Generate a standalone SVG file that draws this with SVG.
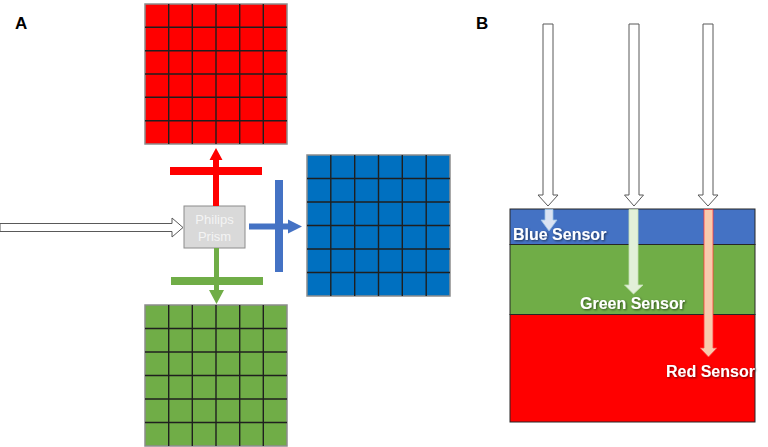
<svg xmlns="http://www.w3.org/2000/svg" width="768" height="447" viewBox="0 0 768 447">
<defs>
<style>
.grid-border{stroke:#8c8c8c;stroke-width:1.5}
.grid-lines{stroke:#1f1f1f;stroke-width:1.4;fill:none}
.panel{font-family:"Liberation Sans",Arial,sans-serif;font-weight:bold;font-size:17px;fill:#000}
.hollow{fill:#fff;stroke:#595959;stroke-width:1}
.sensor{font-family:"Liberation Sans",Arial,sans-serif;font-weight:bold;font-size:16px;fill:#fff;filter:url(#sh)}
.prism-t{font-family:"Liberation Sans",Arial,sans-serif;font-size:13px;fill:#f4f4f4;text-anchor:middle}
</style>
<filter id="sh" x="-10%" y="-30%" width="130%" height="160%">
<feDropShadow dx="1" dy="1" stdDeviation="0.8" flood-color="#000" flood-opacity="0.6"/>
</filter>
</defs>
<rect width="768" height="447" fill="#fff"/>
<text class="panel" x="15" y="29">A</text>
<text class="panel" x="476" y="29">B</text>

<g id="red-grid">
<rect x="145" y="4" width="142" height="140" fill="#ff0000" class="grid-border"/>
<path class="grid-lines" d="M168.7 4V144M192.3 4V144M216 4V144M239.7 4V144M263.3 4V144M145 27.3H287M145 50.7H287M145 74H287M145 97.3H287M145 120.7H287"/>
</g>
<g id="blue-grid">
<rect x="307" y="155" width="143" height="141" fill="#0070c0" class="grid-border"/>
<path class="grid-lines" d="M330.8 155V296M354.7 155V296M378.5 155V296M402.3 155V296M426.2 155V296M307 178.5H450M307 202H450M307 225.5H450M307 249H450M307 272.5H450"/>
</g>
<g id="green-grid">
<rect x="145" y="305" width="142" height="141" fill="#70ad47" class="grid-border"/>
<path class="grid-lines" d="M168.7 305V446M192.3 305V446M216 305V446M239.7 305V446M263.3 305V446M145 328.5H287M145 352H287M145 375.5H287M145 399H287M145 422.5H287"/>
</g>

<g id="filters">
<rect x="170" y="167" width="92" height="8" fill="#ff0000"/>
<rect x="275" y="180" width="8" height="92" fill="#4472c4"/>
<rect x="171" y="277" width="92" height="8" fill="#70ad47"/>
</g>

<g id="prism">
<rect x="184" y="206" width="61" height="42" fill="#d9d9d9" stroke="#8c8c8c" stroke-width="1"/>
<text class="prism-t" x="214.5" y="223.5">Philips</text>
<text class="prism-t" x="214.5" y="240.5">Prism</text>
</g>

<g id="connectors">
<path class="hollow" d="M0 223.5H172V218L183 227.5L172 237V231.5H0Z"/>
<path fill="#ff0000" d="M213 206V160H209.5L216 148L222.5 160H219V206Z"/>
<path fill="#4472c4" d="M249 223.5H288V219.5L302 226.5L288 233.5V229.5H249Z"/>
<path fill="#70ad47" d="M214 248V290H209L216.5 304L224 290H219V248Z"/>
</g>

<g id="sensor-stack">
<rect x="510" y="209" width="245" height="35.5" fill="#4472c4" stroke="#262626" stroke-width="1"/>
<rect x="510" y="244.5" width="245" height="70" fill="#70ad47" stroke="#262626" stroke-width="1"/>
<rect x="510" y="314.5" width="245" height="107.5" fill="#ff0000" stroke="#262626" stroke-width="1"/>
</g>

<g id="light-arrows">
<path class="hollow" d="M543 24H553V195H558L548 206L538 195H543Z"/>
<path class="hollow" d="M629 24H639V195H643.5L634 206L624.5 195H629Z"/>
<path class="hollow" d="M703 24H713V195H718L708 206L698 195H703Z"/>
</g>

<g id="penetration-arrows">
<path d="M545 209.5H553V220H557L549 231L541 220H545Z" fill="#dae3f3" stroke="#9dc3e6" stroke-width="0.8"/>
<path d="M629 209.5H638V285H643L633.5 294L624.5 285H629Z" fill="#e2f0d9" stroke="#c5e0b4" stroke-width="0.8"/>
<path d="M704 209.5H713V348H717L708.5 357L700 348H704Z" fill="#f8cbad" stroke="#ff3b3b" stroke-width="0.8"/>
</g>

<g id="labels">
<text class="sensor" x="513" y="240">Blue Sensor</text>
<text class="sensor" x="580" y="309">Green Sensor</text>
<text class="sensor" x="666" y="377">Red Sensor</text>
</g>
</svg>
